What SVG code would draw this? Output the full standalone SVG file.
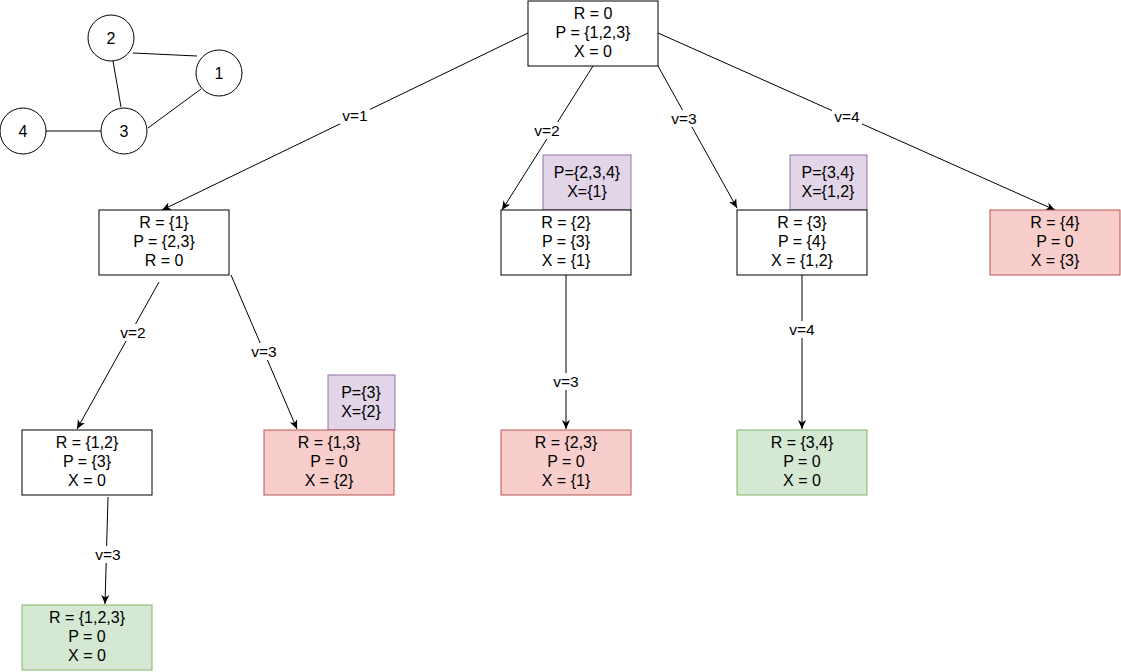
<svg xmlns="http://www.w3.org/2000/svg" width="1121" height="672" viewBox="0 0 1121 672">
<style>
text{font-family:"Liberation Sans",Arial,sans-serif;font-size:16px;fill:#000;text-anchor:middle}
text.l{font-size:15.5px}
.n{fill:#fff;stroke:#000;stroke-width:1}
.r{fill:#f8cecc;stroke:#b85450;stroke-width:1}
.g{fill:#d5e8d4;stroke:#82b366;stroke-width:1}
.p{fill:#e1d5e7;stroke:#9673a6;stroke-width:1}
.e{stroke:#000;stroke-width:1;fill:none}
.a{stroke:#000;stroke-width:1;fill:none;marker-end:url(#ar)}
.lb{fill:#fff;stroke:none}
</style>
<defs>
<marker id="ar" viewBox="0 0 10 10" refX="9" refY="5" markerWidth="10" markerHeight="10" markerUnits="userSpaceOnUse" orient="auto">
<path d="M0,1 L9,5 L0,9 L2.5,5 Z" fill="#000"/>
</marker>
</defs>
<rect width="1121" height="672" fill="#fff"/>
<g id="graph">
<line class="e" x1="133" y1="53" x2="197" y2="56"/>
<line class="e" x1="113" y1="61" x2="121" y2="107"/>
<line class="e" x1="201" y1="89" x2="148" y2="128"/>
<line class="e" x1="46" y1="131" x2="101" y2="131"/>
<g id="g2"><circle class="n" cx="111" cy="38" r="23"/><text x="111" y="44">2</text></g>
<g id="g1"><circle class="n" cx="219" cy="73" r="23"/><text x="219" y="79">1</text></g>
<g id="g3"><circle class="n" cx="124" cy="131" r="23"/><text x="124" y="137">3</text></g>
<g id="g4"><circle class="n" cx="23" cy="131" r="23"/><text x="23" y="137">4</text></g>
</g>
<g id="connectors">
<line class="a" x1="528" y1="33" x2="162" y2="210"/>
<rect class="lb" x="340" y="107" width="30" height="17"/><text class="l" x="355" y="121">v=1</text>
<line class="a" x1="593" y1="66" x2="502" y2="210"/>
<rect class="lb" x="532" y="122" width="30" height="17"/><text class="l" x="547" y="136">v=2</text>
<line class="a" x1="658" y1="66" x2="737" y2="208"/>
<rect class="lb" x="669" y="110" width="30" height="17"/><text class="l" x="684" y="124">v=3</text>
<line class="a" x1="658" y1="33" x2="1055" y2="210"/>
<rect class="lb" x="832" y="108" width="30" height="17"/><text class="l" x="847" y="122">v=4</text>
<line class="a" x1="159" y1="282" x2="77" y2="429"/>
<rect class="lb" x="118" y="324" width="30" height="17"/><text class="l" x="133" y="338">v=2</text>
<line class="a" x1="231" y1="275" x2="297" y2="429"/>
<rect class="lb" x="249" y="343" width="30" height="17"/><text class="l" x="264" y="357">v=3</text>
<line class="a" x1="566" y1="275" x2="566" y2="429"/>
<rect class="lb" x="551" y="373" width="30" height="17"/><text class="l" x="566" y="387">v=3</text>
<line class="a" x1="802" y1="275" x2="802" y2="429"/>
<rect class="lb" x="787" y="321" width="30" height="17"/><text class="l" x="802" y="335">v=4</text>
<line class="a" x1="108" y1="497" x2="105" y2="604"/>
<rect class="lb" x="93" y="546" width="30" height="17"/><text class="l" x="108" y="560">v=3</text>
</g>
<g id="root"><rect class="n" x="528" y="1" width="130" height="65"/>
<text x="593" y="19">R = 0</text><text x="593" y="38">P = {1,2,3}</text><text x="593" y="57">X = 0</text></g>
<g id="n1"><rect class="n" x="99" y="210" width="130" height="65"/>
<text x="164" y="228">R = {1}</text><text x="164" y="247">P = {2,3}</text><text x="164" y="266">R = 0</text></g>
<g id="n2p"><rect class="p" x="543" y="155" width="88" height="55"/>
<text x="587" y="178">P={2,3,4}</text><text x="587" y="197">X={1}</text></g>
<g id="n2"><rect class="n" x="501" y="210" width="130" height="65"/>
<text x="566" y="228">R = {2}</text><text x="566" y="247">P = {3}</text><text x="566" y="266">X = {1}</text></g>
<g id="n3p"><rect class="p" x="790" y="155" width="77" height="55"/>
<text x="828" y="178">P={3,4}</text><text x="828" y="197">X={1,2}</text></g>
<g id="n3"><rect class="n" x="737" y="210" width="130" height="65"/>
<text x="802" y="228">R = {3}</text><text x="802" y="247">P = {4}</text><text x="802" y="266">X = {1,2}</text></g>
<g id="n4"><rect class="r" x="990" y="210" width="130" height="65"/>
<text x="1055" y="228">R = {4}</text><text x="1055" y="247">P = 0</text><text x="1055" y="266">X = {3}</text></g>
<g id="n12"><rect class="n" x="22" y="430" width="130" height="65"/>
<text x="87" y="448">R = {1,2}</text><text x="87" y="467">P = {3}</text><text x="87" y="486">X = 0</text></g>
<g id="n13p"><rect class="p" x="328" y="375" width="67" height="55"/>
<text x="361" y="398">P={3}</text><text x="361" y="417">X={2}</text></g>
<g id="n13"><rect class="r" x="264" y="430" width="130" height="65"/>
<text x="329" y="448">R = {1,3}</text><text x="329" y="467">P = 0</text><text x="329" y="486">X = {2}</text></g>
<g id="n23"><rect class="r" x="501" y="430" width="130" height="65"/>
<text x="566" y="448">R = {2,3}</text><text x="566" y="467">P = 0</text><text x="566" y="486">X = {1}</text></g>
<g id="n34"><rect class="g" x="737" y="430" width="130" height="65"/>
<text x="802" y="448">R = {3,4}</text><text x="802" y="467">P = 0</text><text x="802" y="486">X = 0</text></g>
<g id="n123"><rect class="g" x="22" y="605" width="130" height="65"/>
<text x="87" y="623">R = {1,2,3}</text><text x="87" y="642">P = 0</text><text x="87" y="661">X = 0</text></g>
</svg>
